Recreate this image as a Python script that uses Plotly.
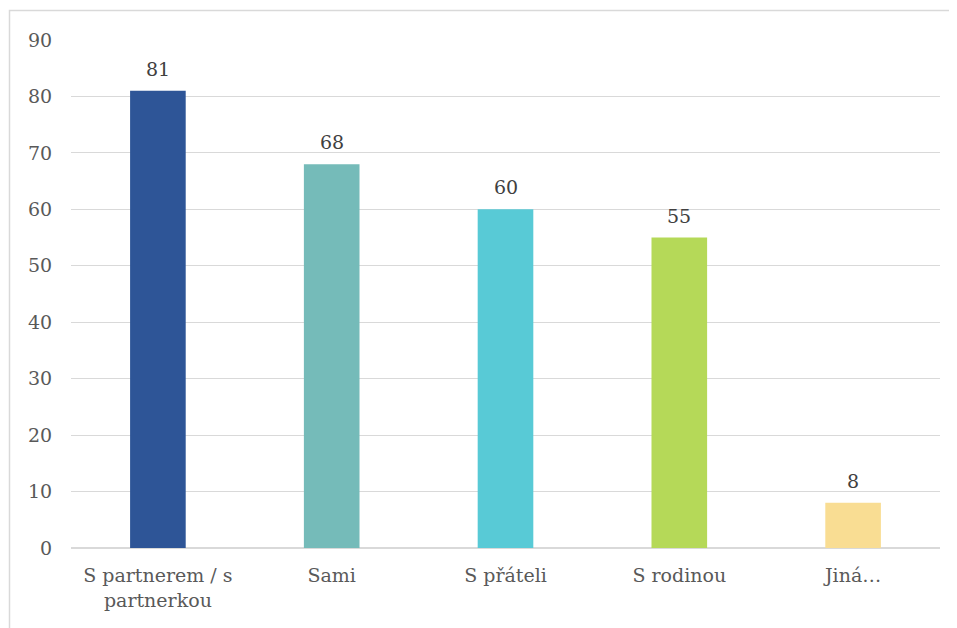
import plotly.graph_objects as go

categories = ["S partnerem / s<br>partnerkou", "Sami", "S přáteli", "S rodinou", "Jiná…"]
values = [81, 68, 60, 55, 8]
colors = ["#2E5597", "#75BBB9", "#58CAD6", "#B5D958", "#F9DD93"]

# page has an 8px body margin, so positions are shifted by that
OFF = 8
W, H = 957, 628
L, R, T, B = 71 - OFF, 17 + OFF, 40 - OFF, 80 + OFF
pw, ph = W - L - R, H - T - B

def px_x(x):
    return (x - OFF - L) / pw

def px_y(y):
    return (H - B - (y - OFF)) / ph

FONT = "DejaVu Serif"

fig = go.Figure(go.Bar(
    x=categories, y=values,
    marker=dict(color=colors, line=dict(width=0)),
))

# value labels a little above the bars
for c, v in zip(categories, values):
    fig.add_annotation(x=c, y=v, text=str(v), showarrow=False, yanchor="bottom",
                       yshift=9, font=dict(family=FONT, size=19, color="#404040"))

fig.update_layout(
    width=W, height=H,
    margin=dict(l=L, r=R, t=T, b=B),
    paper_bgcolor="white", plot_bgcolor="white",
    font=dict(family=FONT, size=19, color="#595959"),
    bargap=0.68,
    showlegend=False,
    shapes=[dict(type="rect", xref="paper", yref="paper",
                 x0=px_x(9.5), x1=px_x(950.5), y0=px_y(10.5), y1=px_y(660),
                 line=dict(color="#D9D9D9", width=1.5), fillcolor="rgba(0,0,0,0)",
                 layer="below")],
)
fig.update_yaxes(range=[0, 90], dtick=10, showgrid=True, gridcolor="#D9D9D9",
                 gridwidth=1, zeroline=True, zerolinecolor="#D9D9D9", zerolinewidth=1.5,
                 ticks="outside", ticklen=14, tickcolor="rgba(0,0,0,0)",
                 tickfont=dict(family=FONT, size=19, color="#595959"))
fig.update_xaxes(showgrid=False, showline=False, ticks="outside", ticklen=10,
                 tickcolor="rgba(0,0,0,0)",
                 tickfont=dict(family=FONT, size=19, color="#595959"), tickangle=0)

fig.write_html("out.html")
